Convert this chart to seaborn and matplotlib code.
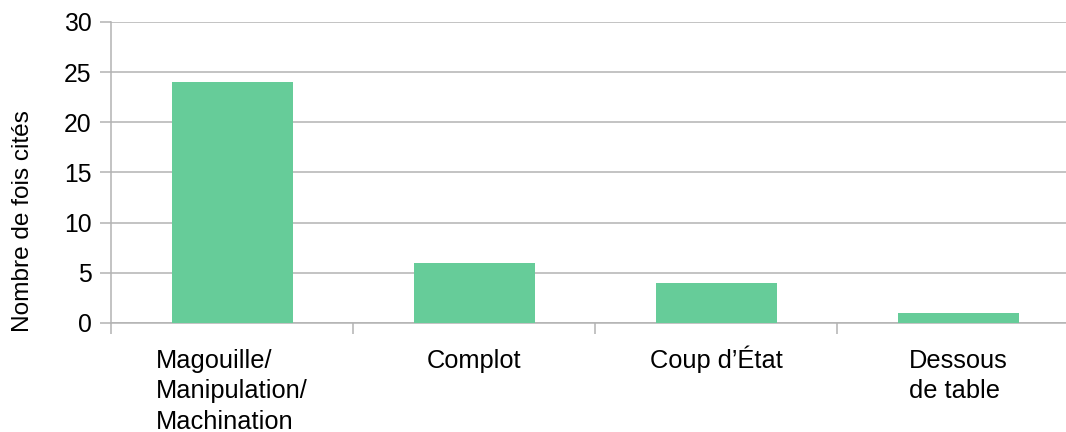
import matplotlib
matplotlib.use("Agg")
import matplotlib.pyplot as plt
import matplotlib.transforms as mtrans
import seaborn as sns
import pandas as pd

categories = ["Magouille/\nManipulation/\nMachination", "Complot", "Coup d\u2019\u00c9tat", "Dessous\nde table"]
values = [24, 6, 4, 1]
y_ticks = [0, 5, 10, 15, 20, 25, 30]
y_label = "Nombre de fois cit\u00e9s"

sns.set_style("white")
plt.rcParams["font.family"] = ["Liberation Sans", "DejaVu Sans"]
plt.rcParams["text.color"] = "black"
plt.rcParams["axes.labelcolor"] = "black"
plt.rcParams["xtick.color"] = "black"
plt.rcParams["ytick.color"] = "black"

df = pd.DataFrame({"cat": categories, "val": values})

fig = plt.figure(figsize=(10.66, 4.32), dpi=100)
ax = fig.add_axes([111/1066, 109/432, 968/1066, 301/432])

sns.barplot(data=df, x="cat", y="val", color="#66CC99", width=0.5, saturation=1,
            linewidth=0, ax=ax, zorder=3)

grid_c = "#b3b3b3"
ax.set_xlim(-0.5, 3.5)
ax.set_ylim(0, 30)
ax.set_yticks(y_ticks)
ax.set_yticklabels([str(t) for t in y_ticks], fontsize=17.8)
ax.yaxis.grid(True, color=grid_c, linewidth=1.1, zorder=0)
ax.xaxis.grid(False)
ax.set_axisbelow(True)

for s in ["top", "right"]:
    ax.spines[s].set_visible(False)
for s in ["left", "bottom"]:
    ax.spines[s].set_color(grid_c)
    ax.spines[s].set_linewidth(1.1)

ax.tick_params(axis="y", length=8, width=1.1, color=grid_c, labelcolor="black", pad=6, left=True)
ax.tick_params(axis="x", which="major", length=0, pad=19, labelcolor="black")
ax.set_xticks(range(len(categories)))
ax.set_xticklabels(categories, fontsize=18.3, multialignment="left", linespacing=1.32)
ax.set_xticks([-0.5, 0.5, 1.5, 2.5, 3.5], minor=True)
ax.tick_params(axis="x", which="minor", length=8, width=1.1, color=grid_c, bottom=True)

ax.set_xlabel("")
ax.set_ylabel(y_label, fontsize=17.6, color="black")
ax.yaxis.set_label_coords(-0.08, 0.339)

# align first-line cap heights: shift labels whose first line has taller glyphs (accents)
fig.canvas.draw()
renderer = fig.canvas.get_renderer()
labels = ax.get_xticklabels()
ref_h = labels[1].get_window_extent(renderer).height
h2 = labels[2].get_window_extent(renderer).height
dy = (h2 - ref_h) / fig.dpi
labels[2].set_transform(labels[2].get_transform() + mtrans.ScaledTranslation(0, dy, fig.dpi_scale_trans))

fig.savefig("out.png", dpi=100)
